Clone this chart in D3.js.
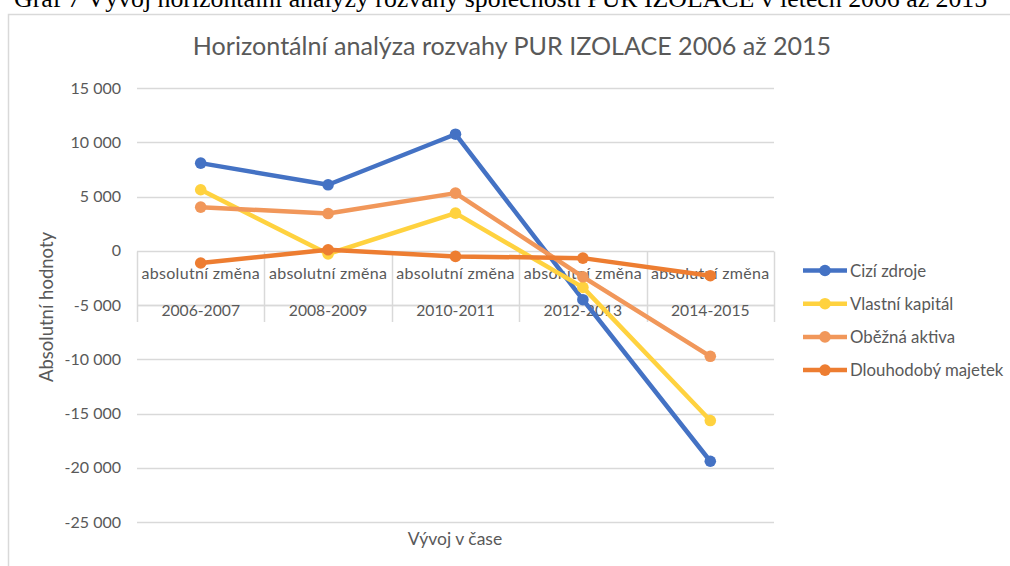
<!DOCTYPE html>
<html lang="cs">
<head>
<meta charset="utf-8">
<title>Horizontální analýza rozvahy</title>
<script src="https://cdn.jsdelivr.net/npm/d3@7"></script>
<style>
body { margin: 0; background: #fff; }
text { font-family: Lato, "Liberation Sans", sans-serif; }
text.caption { font-family: "Liberation Serif", "Times New Roman", serif; }
</style>
</head>
<body>
<script>
// data
var periods = ["2006-2007", "2008-2009", "2010-2011", "2012-2013", "2014-2015"];
var subLabel = "absolutní změna";
var seriesNames = ["Cizí zdroje", "Vlastní kapitál", "Oběžná aktiva", "Dlouhodobý majetek"];
var ciziZdroje = [8075, 6080, 10740, -4510, -19400];
var vlastniKapital = [5620, -300, 3470, -3380, -15650];
var obeznaAktiva = [4020, 3430, 5310, -2400, -9730];
var dlouhodobyMajetek = [-1130, 90, -520, -680, -2300];
var colors = ["#4472C4", "#FFD23F", "#F1975A", "#ED7D31"];
var yTicks = [15000, 10000, 5000, 0, -5000, -10000, -15000, -20000, -25000];

var allSeries = [ciziZdroje, vlastniKapital, obeznaAktiva, dlouhodobyMajetek];

var w = 1010, h = 566;
var left = 137, right = 774;
var grey = "#595959";

var svg = d3.select("body").append("svg")
  .attr("width", w)
  .attr("height", h);

// caption, cut off at the top like in the scan
svg.append("text")
  .attr("class", "caption")
  .attr("x", 14).attr("y", 7)
  .attr("font-size", "25.8px")
  .attr("fill", "#000")
  .text("Graf 7 Vývoj horizontální analýzy rozvahy společnosti PUR IZOLACE v letech 2006 až 2015");

// chart frame
svg.append("rect")
  .attr("x", 8.5).attr("y", 14.5)
  .attr("width", 1010).attr("height", 560)
  .attr("fill", "none")
  .attr("stroke", "#d9d9d9")
  .attr("stroke-width", 1.5);

var x = d3.scaleBand().domain(periods).range([left, right]);
var y = d3.scaleLinear().domain([-25000, 15000]).range([522, 88]);
var cx = function(i) { return x(periods[i]) + x.bandwidth() / 2; };

// gridlines
svg.selectAll("line.grid")
  .data(yTicks)
  .enter()
  .append("line")
  .attr("class", "grid")
  .attr("x1", left).attr("x2", right)
  .attr("y1", function(d) { return Math.round(y(d)) + 0.5; })
  .attr("y2", function(d) { return Math.round(y(d)) + 0.5; })
  .attr("stroke", "#d9d9d9")
  .attr("stroke-width", 1.5);

// y tick labels (space as thousands separator, plain hyphen for minus)
var fmt = function(d) { return d3.format(",")(d).replace(/,/g, " ").replace("\u2212", "-"); };
svg.selectAll("text.ytick")
  .data(yTicks)
  .enter()
  .append("text")
  .attr("class", "ytick")
  .attr("x", 121)
  .attr("y", function(d) { return y(d) + 5.5; })
  .attr("text-anchor", "end")
  .attr("font-size", "16px")
  .attr("fill", grey)
  .text(fmt);

// category table under the zero line
var y0 = Math.round(y(0)) + 0.5;
var bounds = periods.map(function(p) { return x(p); }).concat([right]);
svg.selectAll("line.cat")
  .data(bounds)
  .enter()
  .append("line")
  .attr("x1", function(d) { return Math.round(d) + 0.5; })
  .attr("x2", function(d) { return Math.round(d) + 0.5; })
  .attr("y1", y0).attr("y2", 322)
  .attr("stroke", "#d9d9d9")
  .attr("stroke-width", 1.5);
svg.append("line")
  .attr("x1", left).attr("x2", right)
  .attr("y1", 305.5).attr("y2", 305.5)
  .attr("stroke", "#d9d9d9")
  .attr("stroke-width", 1.5);

svg.selectAll("text.sub")
  .data(periods)
  .enter()
  .append("text")
  .attr("x", function(d, i) { return cx(i); })
  .attr("y", 279)
  .attr("text-anchor", "middle")
  .attr("font-size", "16px")
  .attr("letter-spacing", "0.3px")
  .attr("fill", grey)
  .text(subLabel);

svg.selectAll("text.per")
  .data(periods)
  .enter()
  .append("text")
  .attr("x", function(d, i) { return cx(i); })
  .attr("y", 316)
  .attr("text-anchor", "middle")
  .attr("font-size", "15.7px")
  .attr("fill", grey)
  .text(function(d) { return d; });

// lines + markers
var line = d3.line()
  .x(function(d, i) { return cx(i); })
  .y(function(d) { return y(d); });

allSeries.forEach(function(s, k) {
  svg.append("path")
    .datum(s)
    .attr("d", line)
    .attr("fill", "none")
    .attr("stroke", colors[k])
    .attr("stroke-width", 4.5)
    .attr("stroke-linejoin", "round");
  svg.selectAll("circle.s" + k)
    .data(s)
    .enter()
    .append("circle")
    .attr("class", "s" + k)
    .attr("cx", function(d, i) { return cx(i); })
    .attr("cy", function(d) { return y(d); })
    .attr("r", 5.8)
    .attr("fill", colors[k]);
});

// title
svg.append("text")
  .attr("x", 512).attr("y", 55)
  .attr("text-anchor", "middle")
  .attr("font-size", "25.1px")
  .attr("fill", grey)
  .text("Horizontální analýza rozvahy PUR IZOLACE 2006 až 2015");

// axis titles
svg.append("text")
  .attr("transform", "translate(53,307) rotate(-90)")
  .attr("text-anchor", "middle")
  .attr("font-size", "18.5px")
  .attr("fill", grey)
  .text("Absolutní hodnoty");

svg.append("text")
  .attr("x", 455).attr("y", 545)
  .attr("text-anchor", "middle")
  .attr("font-size", "17.5px")
  .attr("fill", grey)
  .text("Vývoj v čase");

// legend
var legend = svg.selectAll("g.leg")
  .data(seriesNames)
  .enter()
  .append("g")
  .attr("transform", function(d, i) { return "translate(803," + (270.5 + i * 33.2) + ")"; });
legend.append("line")
  .attr("x1", 0).attr("x2", 44)
  .attr("stroke", function(d, i) { return colors[i]; })
  .attr("stroke-width", 4.5);
legend.append("circle")
  .attr("cx", 22).attr("r", 5.8)
  .attr("fill", function(d, i) { return colors[i]; });
legend.append("text")
  .attr("x", 47).attr("y", 6)
  .attr("font-size", "16.8px")
  .attr("fill", grey)
  .text(function(d) { return d; });
</script>
</body>
</html>
